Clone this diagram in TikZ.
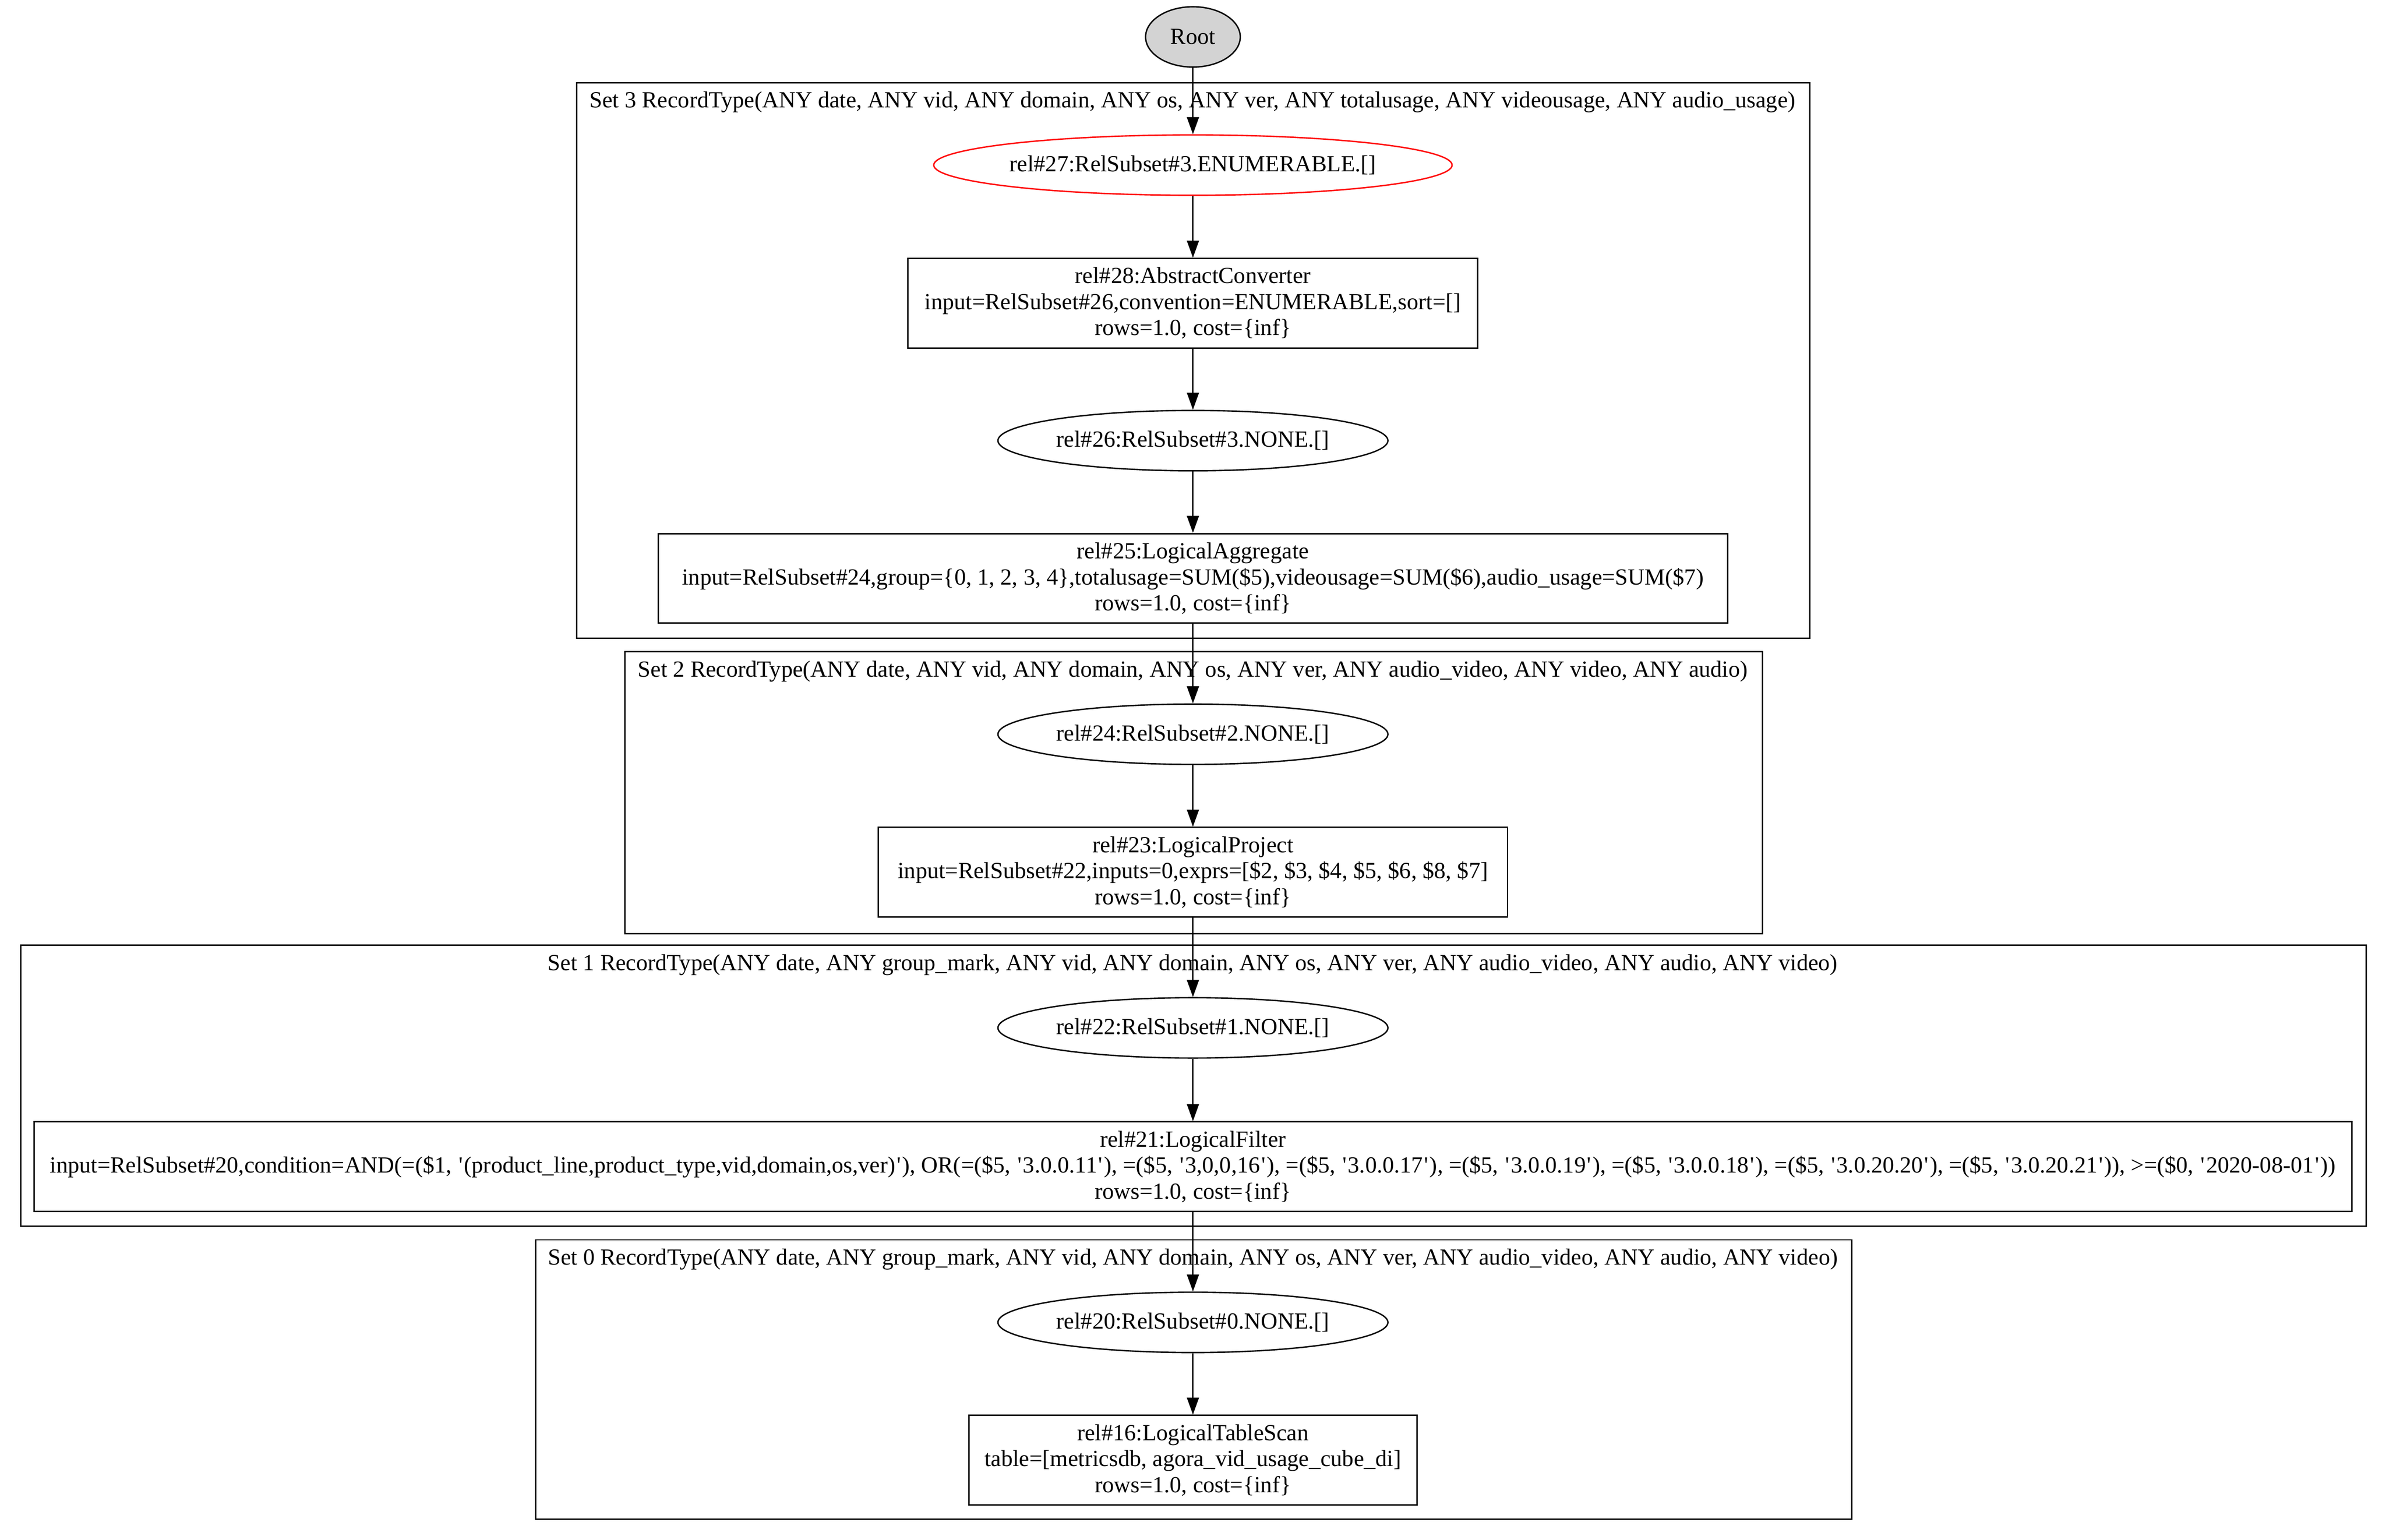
\documentclass[tikz,border=0pt]{standalone}
\usepackage{fontspec}
\setmainfont{Liberation Serif}
\usetikzlibrary{arrows.meta,shapes.geometric}
\newcommand{\sq}{\makebox[0.29em]{\textquotesingle}}
\definecolor{rootgray}{HTML}{D3D3D3}
\begin{document}
\begin{tikzpicture}[x=1pt,y=-1pt,
  gvfont/.style={font=\fontsize{13.5}{15.2}\selectfont},
  cluster/.style={draw, line width=0.8pt, rectangle, inner sep=0pt, anchor=north west},
  ctitle/.style={gvfont, anchor=base, inner sep=0pt},
  ell/.style={draw, line width=0.8pt, ellipse, inner sep=0pt, minimum height=35.3pt, gvfont},
  relbox/.style={draw, line width=0.8pt, rectangle, inner sep=0pt, minimum height=52.4pt, align=center, gvfont},
  edge/.style={line width=0.8pt, -{Triangle[length=10pt,width=7pt]}, shorten >=0pt}
]
\useasboundingbox (0,0) rectangle (1396.1,900.96);

% clusters
\node[cluster, minimum width=721.6pt, minimum height=325pt] (c3) at (337,48) {};
\node[ctitle] (t3) at (697.8,63.1) {Set 3 RecordType(ANY date, ANY vid, ANY domain, ANY os, ANY ver, ANY totalusage, ANY videousage, ANY audio\_usage)};

\node[cluster, minimum width=665.5pt, minimum height=164.9pt] (c2) at (365.3,380.9) {};
\node[ctitle] (t2) at (698,396) {Set 2 RecordType(ANY date, ANY vid, ANY domain, ANY os, ANY ver, ANY audio\_video, ANY video, ANY audio)};

\node[cluster, minimum width=1372.2pt, minimum height=164.3pt] (c1) at (11.8,552.7) {};
\node[ctitle] (t1) at (697.9,567.8) {Set 1 RecordType(ANY date, ANY group\_mark, ANY vid, ANY domain, ANY os, ANY ver, ANY audio\_video, ANY audio, ANY video)};

\node[cluster, minimum width=770pt, minimum height=163.5pt] (c0) at (313,725) {};
\node[ctitle] (t0) at (698,740.1) {Set 0 RecordType(ANY date, ANY group\_mark, ANY vid, ANY domain, ANY os, ANY ver, ANY audio\_video, ANY audio, ANY video)};

% nodes
\node[ell, fill=rootgray, minimum width=55.4pt] (root) at (698,21.6) {Root};
\node[ell, draw=red, minimum width=301pt] (e27) at (698,96.6) {rel\#27:RelSubset\#3.ENUMERABLE.[]};
\node[relbox, minimum width=333.4pt] (b28) at (698,177.4) {rel\#28:AbstractConverter\\input=RelSubset\#26,convention=ENUMERABLE,sort=[]\\rows=1.0, cost=\{inf\}};
\node[ell, minimum width=228.2pt] (e26) at (698,257.8) {rel\#26:RelSubset\#3.NONE.[]};
\node[relbox, minimum width=625.8pt] (b25) at (698,338.4) {rel\#25:LogicalAggregate\\input=RelSubset\#24,group=\{0, 1, 2, 3, 4\},totalusage=SUM(\$5),videousage=SUM(\$6),audio\_usage=SUM(\$7)\\rows=1.0, cost=\{inf\}};
\node[ell, minimum width=228.2pt] (e24) at (698,429.6) {rel\#24:RelSubset\#2.NONE.[]};
\node[relbox, minimum width=368.1pt] (b23) at (698,510.3) {rel\#23:LogicalProject\\input=RelSubset\#22,inputs=0,exprs=[\$2, \$3, \$4, \$5, \$6, \$8, \$7]\\rows=1.0, cost=\{inf\}};
\node[ell, minimum width=228.2pt] (e22) at (698,601.4) {rel\#22:RelSubset\#1.NONE.[]};
\node[relbox, minimum width=1356.2pt] (b21) at (698,682.6) {rel\#21:LogicalFilter\\input=RelSubset\#20,condition=AND(=(\$1, \sq(product\_line,product\_type,vid,domain,os,ver)\sq), OR(=(\$5, \sq3.0.0.11\sq), =(\$5, \sq3,0,0,16\sq), =(\$5, \sq3.0.0.17\sq), =(\$5, \sq3.0.0.19\sq), =(\$5, \sq3.0.0.18\sq), =(\$5, \sq3.0.20.20\sq), =(\$5, \sq3.0.20.21\sq)), >=(\$0, \sq2020-08-01\sq))\\rows=1.0, cost=\{inf\}};
\node[ell, minimum width=228.2pt] (e20) at (698,773.7) {rel\#20:RelSubset\#0.NONE.[]};
\node[relbox, minimum width=262.2pt] (b16) at (698,854.3) {rel\#16:LogicalTableScan\\table=[metricsdb, agora\_vid\_usage\_cube\_di]\\rows=1.0, cost=\{inf\}};

% edges
\draw[edge] (root.south) -- (e27.north);
\draw[edge] (e27.south) -- (b28.north);
\draw[edge] (b28.south) -- (e26.north);
\draw[edge] (e26.south) -- (b25.north);
\draw[edge] (b25.south) -- (e24.north);
\draw[edge] (e24.south) -- (b23.north);
\draw[edge] (b23.south) -- (e22.north);
\draw[edge] (e22.south) -- (b21.north);
\draw[edge] (b21.south) -- (e20.north);
\draw[edge] (e20.south) -- (b16.north);
\end{tikzpicture}
\end{document}
